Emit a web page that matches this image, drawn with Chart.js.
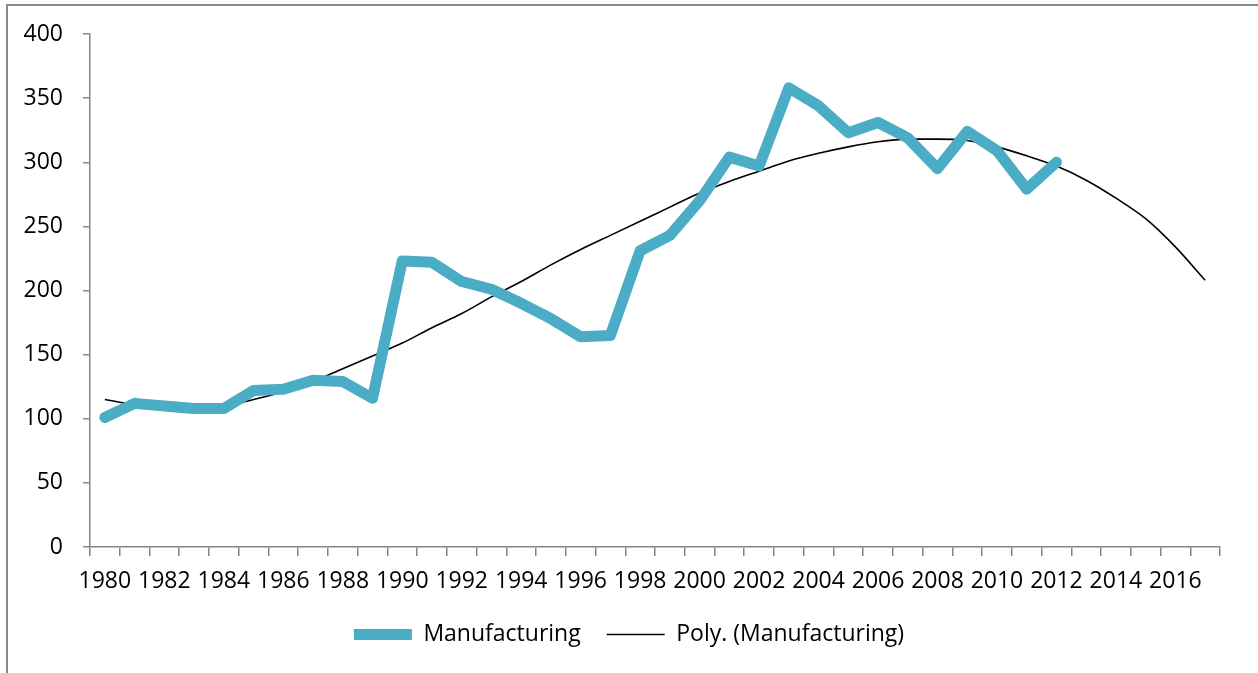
<!DOCTYPE html>
<html>
<head>
<meta charset="utf-8">
<script src="https://cdn.jsdelivr.net/npm/chart.js@4.4.0/dist/chart.umd.min.js"></script>
<style>
    html, body { margin: 0; padding: 0; background: #fff; overflow: hidden; }
    #frame {
        position: absolute; left: 6px; top: 4px;
        width: 1400px; height: 800px;
        border-left: 2px solid #898989; border-top: 2px solid #898989;
    }
    #chart { position: absolute; left: 0; top: 0; }
</style>
</head>
<body>
<div id="frame"></div>
<canvas id="chart" width="1258" height="673"></canvas>
<script>
var years = [];
for (var y = 1980; y <= 2017; y++) { years.push(String(y)); }

// index values, 1980..2012
var manufacturing = [
    101, 112, 110, 108, 108, 122, 123, 130, 129, 116,
    223, 222, 207, 201, 190, 178, 164, 165, 231, 243,
    270, 304, 297, 358, 344, 323, 331, 319, 295, 324,
    309, 279, 300
];

// polynomial trend line as drawn, 1980..2017
var trend = [
    115, 111, 109, 109, 110, 115, 121, 129, 139, 149,
    159, 171, 182, 195, 207, 220, 232, 243, 254, 265,
    276, 285, 293, 301, 307, 312, 316, 318, 318, 317,
    312, 305, 297, 286, 272, 256, 234, 208
];

var yTicks = [0, 50, 100, 150, 200, 250, 300, 350, 400];

var axisGrey = '#868686';
var font = { family: '"Open Sans", "Noto Sans", sans-serif', size: 23 };

var ctx = document.getElementById('chart').getContext('2d');
var myChart = new Chart(ctx, {
    type: 'line',
    data: {
        labels: years,
        datasets: [{
            label: 'Manufacturing',
            data: manufacturing,
            borderColor: '#4BACC6',
            backgroundColor: '#4BACC6',
            borderWidth: 11,
            borderCapStyle: 'round',
            borderJoinStyle: 'round',
            pointRadius: 0,
            fill: false
        }, {
            label: 'Poly. (Manufacturing)',
            data: trend,
            borderColor: '#000000',
            backgroundColor: '#000000',
            borderWidth: 1.6,
            borderCapStyle: 'butt',
            tension: 0.4,
            cubicInterpolationMode: 'monotone',
            pointRadius: 0,
            fill: false
        }]
    },
    options: {
        responsive: false,
        animation: false,
        layout: { padding: { left: 0, right: 0, top: 34, bottom: 17 } },
        plugins: {
            title: { display: false },
            tooltip: { enabled: false },
            legend: {
                display: true,
                position: 'bottom',
                labels: {
                    usePointStyle: true,
                    pointStyle: 'line',
                    pointStyleWidth: 58,
                    padding: 26,
                    color: '#000',
                    font: font
                }
            }
        },
        scales: {
            x: {
                offset: true,
                afterFit: function(scale) { scale.height = 50; },
                border: { display: true, color: axisGrey, width: 1.5 },
                grid: {
                    offset: true,
                    drawOnChartArea: false,
                    drawTicks: true,
                    tickLength: 9,
                    color: axisGrey,
                    lineWidth: 1.5
                },
                ticks: {
                    autoSkip: false,
                    maxRotation: 0,
                    padding: 12,
                    color: '#000',
                    font: font,
                    callback: function(v, i) {
                        return i % 2 === 0 ? this.getLabelForValue(v) : '';
                    }
                }
            },
            y: {
                min: 0,
                max: 400,
                afterFit: function(scale) { scale.width = 90; },
                afterBuildTicks: function(scale) {
                    scale.ticks = yTicks.map(function(v) { return { value: v }; });
                },
                border: { display: true, color: axisGrey, width: 1.5 },
                grid: {
                    drawOnChartArea: false,
                    drawTicks: true,
                    tickLength: 7,
                    color: axisGrey,
                    lineWidth: 1.5
                },
                ticks: {
                    padding: 20,
                    color: '#000',
                    font: font
                }
            },
            // empty right margin so the legend stays centred on the page
            yRight: {
                position: 'right',
                min: 0,
                max: 400,
                afterFit: function(scale) { scale.width = 38; },
                border: { display: false },
                grid: { display: false, drawTicks: false },
                ticks: { display: false }
            }
        }
    }
});
</script>
</body>
</html>
